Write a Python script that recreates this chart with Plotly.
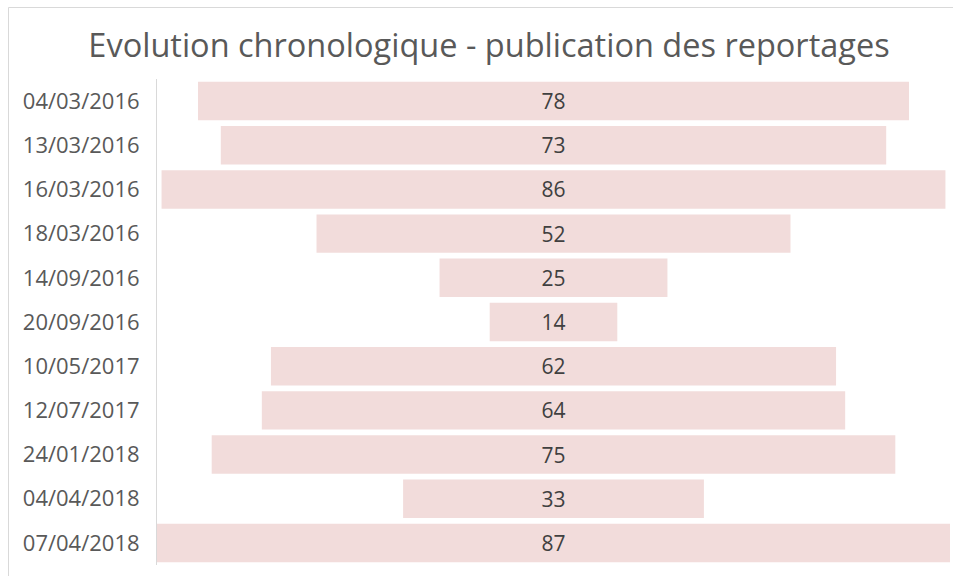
import plotly.graph_objects as go

dates = ["04/03/2016", "13/03/2016", "16/03/2016", "18/03/2016", "14/09/2016",
         "20/09/2016", "10/05/2017", "12/07/2017", "24/01/2018", "04/04/2018",
         "07/04/2018"]
counts = [78, 73, 86, 52, 25, 14, 62, 64, 75, 33, 87]
title_text = "Evolution chronologique - publication des reportages"

W, H = 953, 576
ml, mr, mt, mb = 157, 3, 79, 11
pw = W - ml - mr
ph = H - mt - mb

fig = go.Figure(go.Funnel(
    y=dates,
    x=counts,
    textinfo="value",
    textposition="inside",
    insidetextanchor="middle",
    insidetextfont=dict(family="Open Sans", size=21, color="#404040"),
    marker=dict(color="#F2DCDB", line=dict(width=0)),
    connector=dict(visible=False),
    hoverinfo="y+x",
))

def px_x(x):
    return (x - ml) / pw

def px_y(y):
    return (H - mb - y) / ph

fig.update_layout(
    width=W, height=H,
    margin=dict(l=ml, r=mr, t=mt, b=mb, autoexpand=False),
    paper_bgcolor="white",
    plot_bgcolor="white",
    funnelgap=0.13,
    showlegend=False,
    title=dict(
        text=title_text,
        x=489 / W, xref="container", xanchor="center",
        y=1 - 46 / H, yref="container", yanchor="middle",
        font=dict(family="Open Sans", size=32.5, color="#595959"),
    ),
    xaxis=dict(visible=False, range=[-43.5, 43.5], fixedrange=True),
    yaxis=dict(
        showline=True, linecolor="#D9D9D9", linewidth=1,
        showgrid=False, ticks="", ticklabelstandoff=12,
        tickfont=dict(family="Open Sans", size=22, color="#595959"),
        categoryorder="array", categoryarray=dates,
    ),
    shapes=[
        dict(type="line", xref="paper", yref="paper",
             x0=px_x(8.5), x1=px_x(8.5), y0=px_y(7.5), y1=px_y(600),
             line=dict(color="#D9D9D9", width=1)),
        dict(type="line", xref="paper", yref="paper",
             x0=px_x(8.5), x1=px_x(1000), y0=px_y(7.5), y1=px_y(7.5),
             line=dict(color="#D9D9D9", width=1)),
    ],
)

fig.write_html(
    "out.html",
    config={"displayModeBar": False},
    post_script="document.body.style.margin='0';document.body.style.overflow='hidden';",
)
